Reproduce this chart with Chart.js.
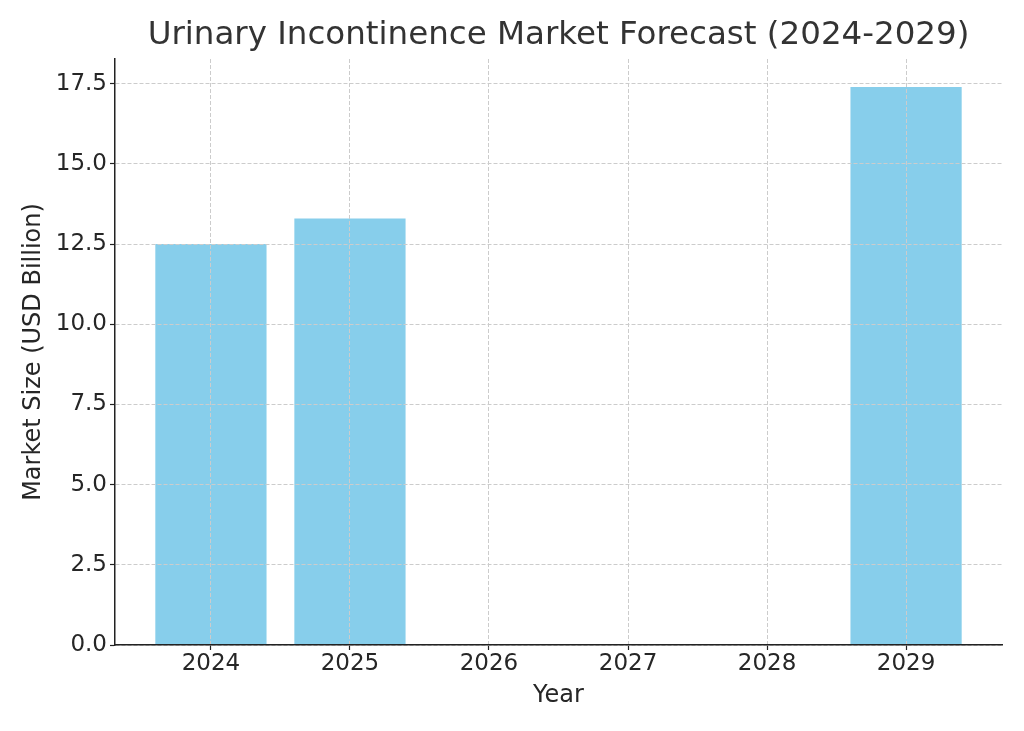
<!DOCTYPE html>
<html>
<head>
<meta charset="utf-8">
<script src="https://cdn.jsdelivr.net/npm/chart.js@4"></script>
<style>
  html, body { margin: 0; padding: 0; background: #fff; }
  canvas { display: block; }
</style>
</head>
<body>
<canvas id="chart" width="1024" height="731"></canvas>
<script>
const years = ["2024", "2025", "2026", "2027", "2028", "2029"];
const marketSize = [12.5, 13.3, null, null, null, 17.4];
const yTicks = [0, 2.5, 5, 7.5, 10, 12.5, 15, 17.5];

const FONT = "'DejaVu Sans', sans-serif";
const gridColor = "#cccccc";
const axisColor = "#222222";
const textColor = "#262626";

const points = years.map((y, i) => ({ x: i, y: marketSize[i] })).filter(p => p.y !== null);

new Chart(document.getElementById("chart"), {
  type: "bar",
  data: {
    datasets: [{
      label: "Market Size",
      data: points,
      backgroundColor: "#87CEEB",
      borderWidth: 0,
      barPercentage: 0.8,
      categoryPercentage: 1.0
    }]
  },
  options: {
    responsive: false,
    animation: false,
    layout: { padding: { left: 10, right: 22, top: 0, bottom: 20 } },
    plugins: {
      legend: { display: false },
      tooltip: { enabled: false },
      title: {
        display: true,
        text: "Urinary Incontinence Market Forecast (2024-2029)",
        fullSize: false,
        color: "#333333",
        font: { family: FONT, size: 32.5, weight: "normal" },
        padding: { top: 16, bottom: 4 }
      }
    },
    scales: {
      x: {
        type: "linear",
        min: -0.69,
        max: 5.69,
        offset: false,
        afterBuildTicks: (s) => { s.ticks = years.map((_, i) => ({ value: i })); },
        afterFit: (s) => { s.height = 66; },
        ticks: {
          callback: (v) => years[v],
          color: textColor,
          font: { family: FONT, size: 23 },
          padding: 0,
          maxRotation: 0
        },
        grid: {
          offset: false,
          color: gridColor,
          lineWidth: 1,
          z: 1,
          tickColor: axisColor,
          tickLength: 5,
          tickWidth: 1.2
        },
        border: { display: true, color: axisColor, width: 1.5, dash: [4, 2], z: 2 },
        title: {
          display: true,
          text: "Year",
          color: textColor,
          font: { family: FONT, size: 24 },
          padding: { top: 0, bottom: 1 }
        }
      },
      y: {
        min: 0,
        max: 18.27,
        afterBuildTicks: (s) => { s.ticks = yTicks.map(v => ({ value: v })); },
        afterFit: (s) => { s.width = 105; },
        ticks: {
          callback: (v) => v.toFixed(1),
          color: textColor,
          font: { family: FONT, size: 23 },
          padding: 3
        },
        grid: {
          color: gridColor,
          lineWidth: 1,
          z: 1,
          tickColor: axisColor,
          tickLength: 5,
          tickWidth: 1.2
        },
        border: { display: true, color: axisColor, width: 1.5, dash: [4, 2], z: 2 },
        title: {
          display: true,
          text: "Market Size (USD Billion)",
          color: textColor,
          font: { family: FONT, size: 24 },
          padding: { top: 9, bottom: 0 }
        }
      }
    }
  }
});
</script>
</body>
</html>
